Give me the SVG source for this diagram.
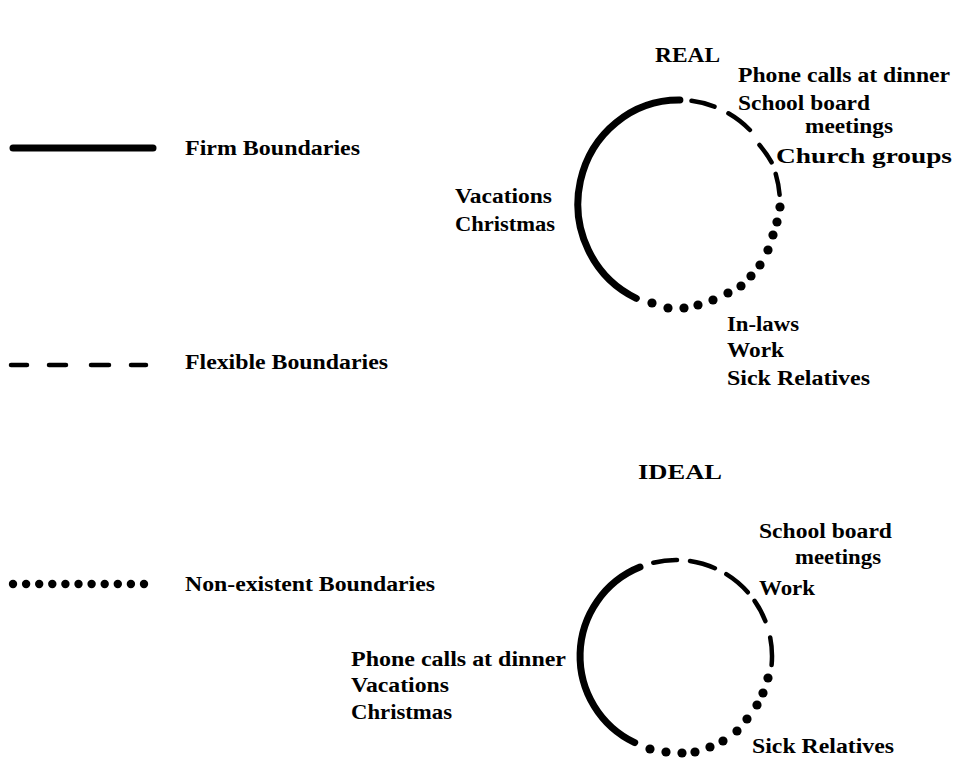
<svg xmlns="http://www.w3.org/2000/svg" width="964" height="762" viewBox="0 0 964 762">
<style>
text{font-family:"Liberation Serif","Times New Roman",serif;font-weight:bold;font-size:20px;fill:#000}
.firm{fill:none;stroke:#000;stroke-width:7;stroke-linecap:round}
.flex{fill:none;stroke:#000;stroke-width:4.5;stroke-linecap:round}
.dot{fill:#000}
</style>
<rect width="964" height="762" fill="#fff"/>
<g id="legend">
  <g id="legend-firm">
    <line class="firm" x1="13" y1="148" x2="153" y2="148"/>
    <text x="185" y="155" textLength="175" lengthAdjust="spacingAndGlyphs">Firm Boundaries</text>
  </g>
  <g id="legend-flexible">
    <path class="flex" d="M11,365H27M49,365H66M91,365H109M131,365H146"/>
    <text x="185" y="369" textLength="203" lengthAdjust="spacingAndGlyphs">Flexible Boundaries</text>
  </g>
  <g id="legend-nonexistent">
    <g class="dot">
      <circle cx="13" cy="584" r="4.2"/><circle cx="26.1" cy="584" r="4.2"/><circle cx="39.2" cy="584" r="4.2"/>
      <circle cx="52.3" cy="584" r="4.2"/><circle cx="65.4" cy="584" r="4.2"/><circle cx="78.5" cy="584" r="4.2"/>
      <circle cx="91.6" cy="584" r="4.2"/><circle cx="104.7" cy="584" r="4.2"/><circle cx="117.8" cy="584" r="4.2"/>
      <circle cx="130.9" cy="584" r="4.2"/><circle cx="144" cy="584" r="4.2"/>
    </g>
    <text x="185" y="591" textLength="250" lengthAdjust="spacingAndGlyphs">Non-existent Boundaries</text>
  </g>
</g>
<g id="real">
  <text x="655" y="62" textLength="65" lengthAdjust="spacingAndGlyphs">REAL</text>
  <g id="real-circle">
    <path class="firm" d="M636.3,298.3 A101,104 0 0 1 679.9,100"/>
    <path class="flex" d="M691.5,100.8 A101,104 0 0 1 714.5,106.6 M728.4,113.3 A101,104 0 0 1 749.9,130 M759.5,145 A101,104 0 0 1 771.6,162.4 M775.7,173.9 A101,104 0 0 1 779.6,194.8"/>
    <g class="dot">
      <circle cx="780" cy="207" r="4.6"/><circle cx="777" cy="222" r="4.6"/><circle cx="773" cy="235" r="4.6"/>
      <circle cx="768" cy="250" r="4.6"/><circle cx="760" cy="265" r="4.6"/><circle cx="751" cy="276" r="4.6"/>
      <circle cx="741" cy="286" r="4.6"/><circle cx="728" cy="293" r="4.6"/><circle cx="713" cy="300" r="4.6"/>
      <circle cx="698" cy="305" r="4.6"/><circle cx="684" cy="308" r="4.6"/><circle cx="668" cy="308" r="4.6"/>
      <circle cx="652" cy="303" r="4.6"/>
    </g>
  </g>
  <g id="real-flexible-labels">
    <text x="738" y="82" textLength="212" lengthAdjust="spacingAndGlyphs">Phone calls at dinner</text>
    <text x="738" y="110" textLength="132" lengthAdjust="spacingAndGlyphs">School board</text>
    <text x="805" y="133" textLength="88" lengthAdjust="spacingAndGlyphs">meetings</text>
    <text x="776" y="163" textLength="176" lengthAdjust="spacingAndGlyphs">Church groups</text>
  </g>
  <g id="real-firm-labels">
    <text x="455" y="203" textLength="97" lengthAdjust="spacingAndGlyphs">Vacations</text>
    <text x="455" y="231" textLength="100" lengthAdjust="spacingAndGlyphs">Christmas</text>
  </g>
  <g id="real-nonexistent-labels">
    <text x="727" y="331" textLength="72" lengthAdjust="spacingAndGlyphs">In-laws</text>
    <text x="727" y="357" textLength="57" lengthAdjust="spacingAndGlyphs">Work</text>
    <text x="727" y="385" textLength="143" lengthAdjust="spacingAndGlyphs">Sick Relatives</text>
  </g>
</g>
<g id="ideal">
  <text x="638" y="479" textLength="84" lengthAdjust="spacingAndGlyphs">IDEAL</text>
  <g id="ideal-circle">
    <path class="firm" d="M634.7,742.6 A96,96 0 0 1 640,567"/>
    <path class="flex" d="M653.3,562.7 A96,96 0 0 1 677,560 M690,561 A96,96 0 0 1 714.9,568.2 M726.3,574.2 A96,96 0 0 1 747.8,592.3 M754.6,600.9 A96,96 0 0 1 765.4,621.1 M770.2,637.5 A96,96 0 0 1 771.6,665"/>
    <g class="dot">
      <circle cx="768" cy="678" r="4.6"/><circle cx="763" cy="693" r="4.6"/><circle cx="757" cy="705" r="4.6"/>
      <circle cx="747" cy="719" r="4.6"/><circle cx="737" cy="731" r="4.6"/><circle cx="723" cy="741" r="4.6"/>
      <circle cx="710" cy="747" r="4.6"/><circle cx="695" cy="752" r="4.6"/><circle cx="682" cy="753" r="4.6"/>
      <circle cx="666" cy="752" r="4.6"/><circle cx="650" cy="749" r="4.6"/>
    </g>
  </g>
  <g id="ideal-flexible-labels">
    <text x="759" y="538" textLength="133" lengthAdjust="spacingAndGlyphs">School board</text>
    <text x="795" y="564" textLength="86" lengthAdjust="spacingAndGlyphs">meetings</text>
    <text x="759" y="595" textLength="56" lengthAdjust="spacingAndGlyphs">Work</text>
  </g>
  <g id="ideal-firm-labels">
    <text x="351" y="666" textLength="215" lengthAdjust="spacingAndGlyphs">Phone calls at dinner</text>
    <text x="351" y="692" textLength="98" lengthAdjust="spacingAndGlyphs">Vacations</text>
    <text x="351" y="719" textLength="101" lengthAdjust="spacingAndGlyphs">Christmas</text>
  </g>
  <g id="ideal-nonexistent-labels">
    <text x="752" y="753" textLength="142" lengthAdjust="spacingAndGlyphs">Sick Relatives</text>
  </g>
</g>
</svg>
